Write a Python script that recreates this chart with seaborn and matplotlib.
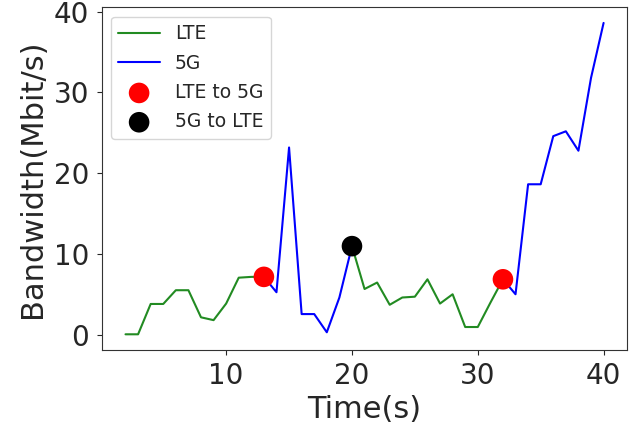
import matplotlib
matplotlib.use("Agg")
import matplotlib.pyplot as plt
import seaborn as sns
import pandas as pd

# Data
time = list(range(2, 41))
bandwidth = [0.1, 0.1, 3.85, 3.85, 5.55, 5.55, 2.2, 1.85, 3.9, 7.1, 7.2, 7.2,
             5.3, 23.2, 2.6, 2.6, 0.35, 4.65, 11.0,
             5.7, 6.5, 3.75, 4.65, 4.75, 6.9, 3.9, 5.05, 1.0, 1.0, 4.0, 6.9,
             5.05, 18.65, 18.65, 24.6, 25.2, 22.8, 31.8, 38.6]
# segments: (technology, start time, end time)
segments = [("LTE", 2, 13), ("5G", 13, 20), ("LTE", 20, 32), ("5G", 32, 40)]
lte_to_5g_times = [13, 32]
g5_to_lte_times = [20]

colors = {"LTE": "forestgreen", "5G": "blue"}

sns.set_style("ticks")
fig, ax = plt.subplots(figsize=(6.39, 4.33), dpi=100)
fig.subplots_adjust(left=0.159, right=0.982, top=0.983, bottom=0.192)

df = pd.DataFrame({"time": time, "bw": bandwidth}).set_index("time")

labeled = set()
for tech, t0, t1 in segments:
    seg = df.loc[t0:t1].reset_index()
    lab = tech if tech not in labeled else None
    labeled.add(tech)
    sns.lineplot(data=seg, x="time", y="bw", color=colors[tech], linewidth=1.5,
                 label=lab, ax=ax, estimator=None, sort=False)

m1 = df.loc[lte_to_5g_times].reset_index()
m2 = df.loc[g5_to_lte_times].reset_index()
sns.scatterplot(data=m1, x="time", y="bw", color="red", s=220, edgecolor="none",
                label="LTE to 5G", ax=ax, zorder=3)
sns.scatterplot(data=m2, x="time", y="bw", color="black", s=220, edgecolor="none",
                label="5G to LTE", ax=ax, zorder=3)

ax.set_xlabel("Time(s)", fontsize=22, labelpad=3)
ax.set_ylabel("Bandwidth(Mbit/s)", fontsize=22, labelpad=5)
ax.set_xticks([10, 20, 30, 40])
ax.set_yticks([0, 10, 20, 30, 40])
ax.tick_params(labelsize=20, pad=5.5, length=3.5)
for s in ax.spines.values():
    s.set_visible(True)
    s.set_color("#333333")

ax.legend(loc="upper left", fontsize=13.5, frameon=True, handlelength=2.2,
          labelspacing=0.55, borderaxespad=0.5)

fig.savefig("out.png", dpi=100)
